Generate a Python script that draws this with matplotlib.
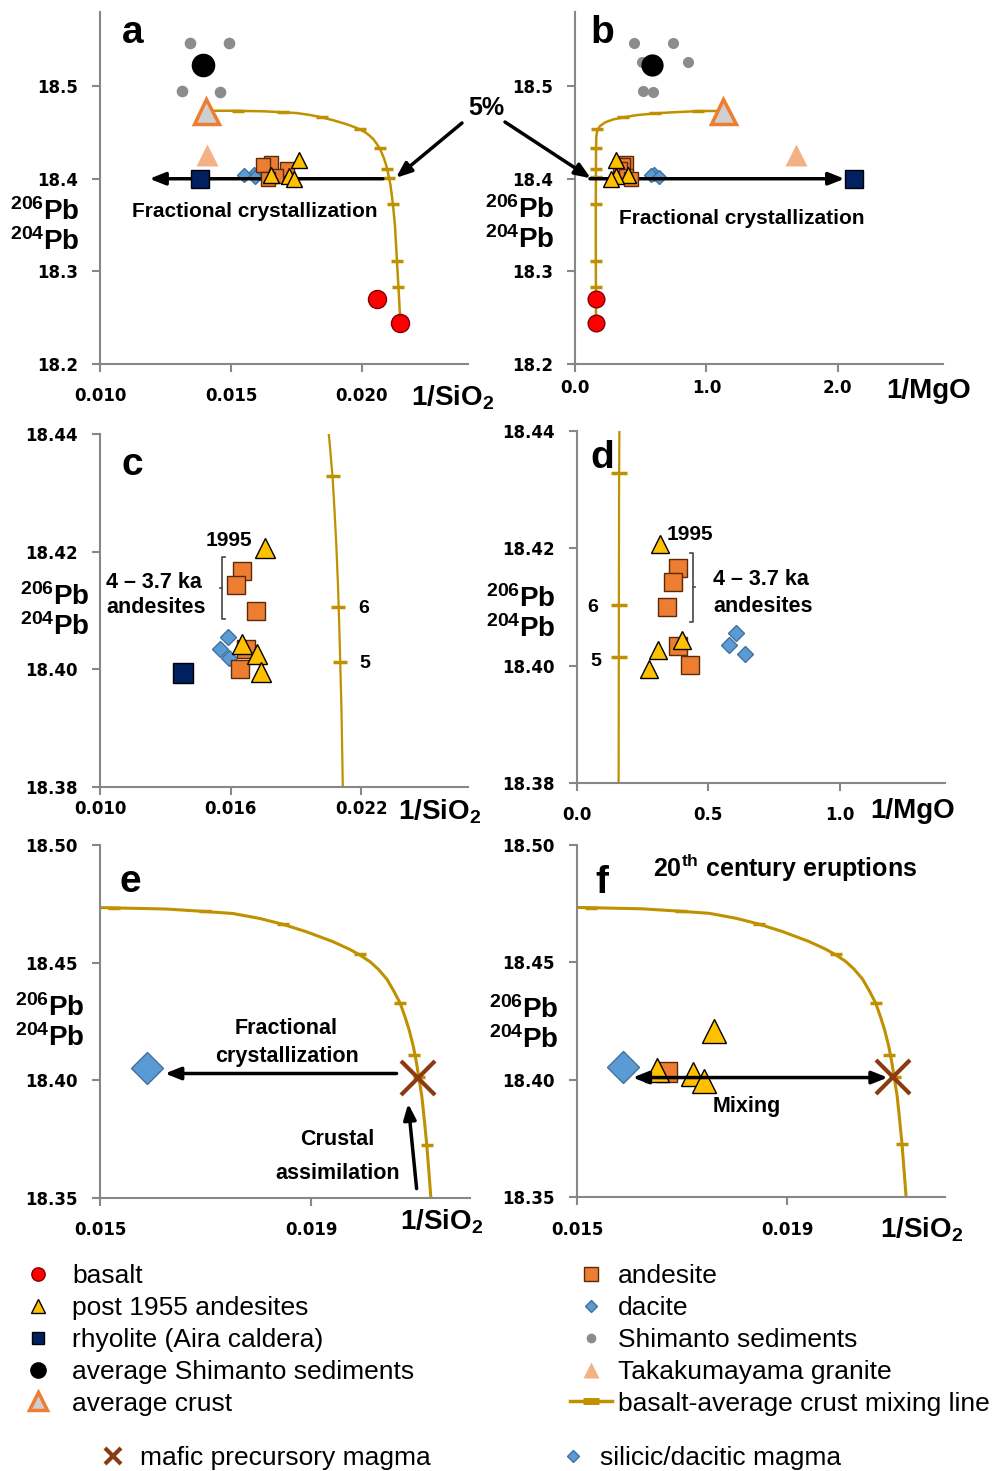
import matplotlib
matplotlib.use("Agg")
import matplotlib.pyplot as plt
from matplotlib.lines import Line2D

plt.rcParams['font.family'] = ['Liberation Sans', 'DejaVu Sans']
plt.rcParams['mathtext.fontset'] = 'custom'
plt.rcParams['mathtext.bf'] = 'Liberation Sans:bold'
plt.rcParams['mathtext.rm'] = 'Liberation Sans:bold'
plt.rcParams['mathtext.default'] = 'bf'

# ---------------- data ----------------
# x = 1/SiO2, 1/MgO ; y = 206Pb/204Pb
basalt_sio2 = [0.02059, 0.02147]
basalt_mgo = [0.160, 0.160]
basalt_pb = [18.270, 18.2442]

andesite_sio2 = [0.01654, 0.01623, 0.01715, 0.01672, 0.01641]
andesite_mgo = [0.3845, 0.3655, 0.3426, 0.3845, 0.4289]
andesite_pb = [18.4167, 18.4143, 18.4100, 18.4034, 18.4001]

post1955_sio2 = [0.01760, 0.01652, 0.01721, 0.01741]
post1955_mgo = [0.3147, 0.4010, 0.3084, 0.2728]
post1955_pb = [18.4207, 18.4043, 18.4026, 18.3995]

dacite_sio2 = [0.01588, 0.01549, 0.01592]
dacite_mgo = [0.604, 0.5787, 0.6396]
dacite_pb = [18.4055, 18.4035, 18.4020]

rhyolite_sio2 = [0.0138]
rhyolite_mgo = [2.124]
rhyolite_pb = [18.3994]

shim_sio2 = [0.01492, 0.01344, 0.01390, 0.01400, 0.01312, 0.01458]
shim_mgo = [0.452, 0.749, 0.862, 0.508, 0.515, 0.591]
shim_pb = [18.547, 18.546, 18.526, 18.526, 18.495, 18.494]

avg_shim_sio2, avg_shim_mgo, avg_shim_pb = [0.01394], [0.584], [18.5225]
avg_crust_sio2, avg_crust_mgo, avg_crust_pb = [0.01403], [1.129], [18.4733]
taka_sio2, taka_mgo, taka_pb = [0.0141], [1.683], [18.4257]

# basalt - average crust mixing line
mix_sio2 = [0.01403, 0.01500, 0.01625, 0.01688, 0.01751, 0.01802, 0.01846, 0.01891, 0.01941, 0.01973,
            0.01992, 0.02011, 0.02027, 0.02043, 0.02055, 0.02068, 0.02077, 0.02085, 0.02093, 0.02099,
            0.02104, 0.02109, 0.02113, 0.02118, 0.02122, 0.02126, 0.02131, 0.02136, 0.02141, 0.02147]
mix_pb_si = [18.4734, 18.4734, 18.4728, 18.4719, 18.4709, 18.4688, 18.4663, 18.4631, 18.4589, 18.4556,
             18.4532, 18.4504, 18.4471, 18.4429, 18.4383, 18.4327, 18.4270, 18.4213, 18.4142, 18.4071,
             18.4001, 18.3930, 18.3845, 18.3731, 18.3618, 18.3500, 18.3250, 18.3000, 18.2750, 18.2442]
tick_sio2 = [0.01526, 0.01698, 0.01846, 0.01992, 0.02068, 0.02094, 0.02104, 0.02118, 0.02134, 0.02139]
tick_pb_si = [18.4733, 18.4718, 18.4663, 18.4535, 18.4328, 18.4106, 18.4013, 18.3727, 18.3110, 18.2836]

mix_mgo = [1.129, 0.939, 0.724, 0.609, 0.470, 0.368, 0.292, 0.228, 0.190, 0.170, 0.162, 0.160,
           0.159, 0.158, 0.158, 0.159, 0.160]
mix_pb_mg = [18.4733, 18.4730, 18.4716, 18.4705, 18.4687, 18.4662, 18.4641, 18.4608, 18.4568, 18.4525,
             18.4453, 18.4300, 18.4000, 18.3700, 18.3300, 18.2900, 18.2442]
tick_mgo = [0.939, 0.609, 0.368, 0.170, 0.161, 0.160, 0.159, 0.158, 0.158, 0.159]
tick_pb_mg = [18.4730, 18.4705, 18.4662, 18.4533, 18.4328, 18.4104, 18.4015, 18.3727, 18.3115, 18.2834]

# end members in e / f
mafic_sio2, mafic_pb = [0.02101], [18.4010]
silicic_sio2, silicic_pb = [0.01588], [18.4053]

# colours
GREY = '#878787'
GOLD = '#BF9000'
RED = '#FF0000'
YEL = '#FFC000'
ORANGE = '#ED7D31'
NAVY = '#002060'
BLUE = '#5B9BD5'
SED = '#8C8C8C'
SALMON = '#F4B183'
CRUST = '#D0CECE'
BROWN = '#8B3A12'

W, H = 1003, 1471
fig = plt.figure(figsize=(W / 100, H / 100), dpi=100)


def fx(px):
    return px / W


def fy(py):
    return 1 - py / H


def add_ax(l, t, r, b):
    return fig.add_axes([fx(l), fy(b), (r - l) / W, (b - t) / H])


def style(ax, xlim, ylim, xt, yt, xfmt, yfmt, xpad):
    ax.set_xlim(xlim)
    ax.set_ylim(ylim)
    ax.set_xticks(xt)
    ax.set_yticks(yt)
    ax.set_xticklabels([xfmt.format(v) for v in xt])
    ax.set_yticklabels([yfmt.format(v) for v in yt])
    for s in ['top', 'right']:
        ax.spines[s].set_visible(False)
    for s in ['left', 'bottom']:
        ax.spines[s].set_color(GREY)
        ax.spines[s].set_linewidth(1.5)
    ax.tick_params(direction='out', length=6, width=1.5, color=GREY, labelsize=12)
    ax.tick_params(axis='x', pad=xpad)
    ax.tick_params(axis='y', pad=10)
    for lab in ax.get_xticklabels() + ax.get_yticklabels():
        lab.set_fontweight('bold')
        lab.set_fontfamily('DejaVu Sans')


def mixing(ax, xs, ys, tx, ty, lw=1.8, tms=9):
    ax.plot(xs, ys, color=GOLD, lw=lw, zorder=2, solid_joinstyle='round')
    ax.plot(tx, ty, ls='none', marker='_', ms=tms, mew=2.5, color=GOLD, zorder=2)


def pts(ax, x, y, marker, ms, fc, ec='none', mew=1.0, z=4):
    ax.plot(x, y, ls='none', marker=marker, ms=ms, mfc=fc, mec=ec, mew=mew, zorder=z)


def arrow(ax, tail, head, style='-|>', z=3.5, **kw):
    ax.annotate('', xy=head, xytext=tail, zorder=z,
                arrowprops=dict(arrowstyle=style + ',head_length=0.55,head_width=0.22',
                                mutation_scale=17, lw=2.5, color='black',
                                shrinkA=0, shrinkB=0), **kw)


BT = dict(fontsize=15.5, fontweight='bold')

# ---------------- panel a ----------------
ax = add_ax(100, 12, 468, 364)
style(ax, (0.010, 0.02405), (18.2, 18.58), [0.010, 0.015, 0.020], [18.2, 18.3, 18.4, 18.5],
      '{:.3f}', '{:.1f}', 10.5)
mixing(ax, mix_sio2, mix_pb_si, tick_sio2, tick_pb_si)
pts(ax, shim_sio2, shim_pb, 'o', 8.4, SED)
pts(ax, avg_shim_sio2, avg_shim_pb, 'o', 17, 'black', z=5)
pts(ax, avg_crust_sio2, avg_crust_pb, '^', 18, CRUST, ORANGE, 2.5)
pts(ax, taka_sio2, taka_pb, '^', 16, SALMON)
pts(ax, rhyolite_sio2, rhyolite_pb, 's', 13.5, NAVY, 'black')
pts(ax, dacite_sio2, dacite_pb, 'D', 7, BLUE, '#41719C', z=3)
pts(ax, andesite_sio2, andesite_pb, 's', 10.5, ORANGE, '#5A2A0A', z=4)
pts(ax, post1955_sio2, post1955_pb, '^', 11.5, YEL, 'black', z=5)
pts(ax, basalt_sio2, basalt_pb, 'o', 13, RED, '#7F0000')
arrow(ax, (0.0208, 18.40), (0.01189, 18.40))
ax.text(0.01589, 18.3586, 'Fractional crystallization', ha='center', va='baseline', fontsize=15, fontweight='bold')
ax.annotate('', xy=(0.0213, 18.401), xytext=(fx(462), fy(123)), textcoords='figure fraction',
            annotation_clip=False, zorder=6,
            arrowprops=dict(arrowstyle='-|>,head_length=0.55,head_width=0.22', mutation_scale=17,
                            lw=2.5, color='black', shrinkA=0, shrinkB=0))

# ---------------- panel b ----------------
ax = add_ax(575, 12, 943, 364)
style(ax, (0.0, 2.80), (18.2, 18.58), [0.0, 1.0, 2.0], [18.2, 18.3, 18.4, 18.5],
      '{:.1f}', '{:.1f}', 4.5)
mixing(ax, mix_mgo, mix_pb_mg, tick_mgo, tick_pb_mg)
pts(ax, shim_mgo, shim_pb, 'o', 8, SED)
pts(ax, avg_shim_mgo, avg_shim_pb, 'o', 16, 'black', z=5)
pts(ax, avg_crust_mgo, avg_crust_pb, '^', 18, CRUST, ORANGE, 2.5)
pts(ax, taka_mgo, taka_pb, '^', 16.5, SALMON)
pts(ax, rhyolite_mgo, rhyolite_pb, 's', 13.5, NAVY, 'black', z=5)
pts(ax, dacite_mgo, dacite_pb, 'D', 7, BLUE, '#41719C', z=3)
pts(ax, andesite_mgo, andesite_pb, 's', 10.5, ORANGE, '#5A2A0A', z=4)
pts(ax, post1955_mgo, post1955_pb, '^', 11.5, YEL, 'black', z=5)
pts(ax, basalt_mgo, basalt_pb, 'o', 12, RED, '#7F0000')
arrow(ax, (0.114, 18.40), (2.05, 18.40))
ax.text(1.269, 18.3514, 'Fractional crystallization', ha='center', va='baseline', fontsize=15, fontweight='bold')
ax.annotate('', xy=(0.12, 18.4005), xytext=(fx(505), fy(122)), textcoords='figure fraction',
            annotation_clip=False, zorder=6,
            arrowprops=dict(arrowstyle='-|>,head_length=0.55,head_width=0.22', mutation_scale=17,
                            lw=2.5, color='black', shrinkA=0, shrinkB=0))
fig.text(fx(486), fy(108), '5%', ha='center', va='center', fontsize=18, fontweight='bold')

# ---------------- panel c ----------------
ax = add_ax(100, 434, 468, 787)
style(ax, (0.010, 0.0269), (18.38, 18.44), [0.010, 0.016, 0.022], [18.38, 18.40, 18.42, 18.44],
      '{:.3f}', '{:.2f}', 3.5)
mixing(ax, mix_sio2, mix_pb_si, tick_sio2, tick_pb_si, lw=1.6, tms=10)
pts(ax, rhyolite_sio2, rhyolite_pb, 's', 13.7, NAVY, 'black')
pts(ax, dacite_sio2, dacite_pb, 'D', 8.5, BLUE, '#41719C', z=3)
pts(ax, andesite_sio2, andesite_pb, 's', 12.7, ORANGE, '#5A2A0A', z=4)
pts(ax, post1955_sio2, post1955_pb, '^', 14, YEL, 'black', z=5)
ax.text(0.01592, 18.421, '1995', ha='center', va='baseline', fontsize=15, fontweight='bold')
ax.text(0.01028, 18.4139, '4 – 3.7 ka', ha='left', va='baseline', **BT)
ax.text(0.01028, 18.4096, 'andesites', ha='left', va='baseline', **BT)
ax.text(0.02212, 18.4095, '6', ha='center', va='baseline', fontsize=14, fontweight='bold')
ax.text(0.02217, 18.4002, '5', ha='center', va='baseline', fontsize=14, fontweight='bold')
# bracket around the three older andesites
bx = min(andesite_sio2[:3]) - 0.00065
by0, by1 = min(andesite_pb[:3]) - 0.0015, max(andesite_pb[:3]) + 0.0024
ax.plot([bx + 0.00016, bx, bx, bx + 0.00016], [by1, by1, by0, by0], color='#444444', lw=1.2)
ax.plot([bx, bx - 0.00008], [(by0 + by1) / 2] * 2, color='#444444', lw=1.2)

# ---------------- panel d ----------------
ax = add_ax(577, 431, 945, 783)
style(ax, (0.0, 1.40), (18.38, 18.44), [0.0, 0.5, 1.0], [18.38, 18.40, 18.42, 18.44],
      '{:.1f}', '{:.2f}', 10.5)
mixing(ax, mix_mgo, mix_pb_mg, tick_mgo, tick_pb_mg, lw=1.6, tms=11)
pts(ax, dacite_mgo, dacite_pb, 'D', 8, BLUE, '#41719C', z=3)
pts(ax, andesite_mgo, andesite_pb, 's', 13, ORANGE, '#5A2A0A', z=4)
pts(ax, post1955_mgo, post1955_pb, '^', 13, YEL, 'black', z=5)
ax.text(0.340, 18.4214, '1995', ha='left', va='baseline', fontsize=15, fontweight='bold')
ax.text(0.518, 18.4137, '4 – 3.7 ka', ha='left', va='baseline', **BT)
ax.text(0.518, 18.4092, 'andesites', ha='left', va='baseline', **BT)
ax.text(0.061, 18.4092, '6', ha='center', va='baseline', fontsize=14, fontweight='bold')
ax.text(0.071, 18.4000, '5', ha='center', va='baseline', fontsize=14, fontweight='bold')
bx = max(andesite_mgo[:3]) + 0.057
by0, by1 = min(andesite_pb[:3]) - 0.0025, max(andesite_pb[:3]) + 0.0025
ax.plot([bx - 0.013, bx, bx, bx - 0.013], [by1, by1, by0, by0], color='#444444', lw=1.2)
ax.plot([bx, bx + 0.007], [(by0 + by1) / 2] * 2, color='#444444', lw=1.2)

# ---------------- panel e ----------------
ax = add_ax(100, 845, 470, 1198)
style(ax, (0.015, 0.022), (18.35, 18.50), [0.015, 0.019], [18.35, 18.40, 18.45, 18.50],
      '{:.3f}', '{:.2f}', 10.5)
mixing(ax, mix_sio2, mix_pb_si, tick_sio2, tick_pb_si, lw=2.2, tms=9)
pts(ax, silicic_sio2, silicic_pb, 'D', 16.8, BLUE, '#41719C')
ax.plot(mafic_sio2, mafic_pb, ls='none', marker='x', ms=25, mew=3, color=BROWN, zorder=5)
arrow(ax, (0.02061, 18.4029), (0.01623, 18.4029))
arrow(ax, (0.02099, 18.354), (0.02083, 18.3901))
ax.text(0.01853, 18.4195, 'Fractional', ha='center', va='baseline', **BT)
ax.text(0.01853, 18.4076, 'crystallization', ha='center', va='baseline', **BT)
ax.text(0.01949, 18.3727, 'Crustal', ha='center', va='baseline', **BT)
ax.text(0.01949, 18.3582, 'assimilation', ha='center', va='baseline', **BT)

# ---------------- panel f ----------------
ax = add_ax(577, 845, 945, 1197)
style(ax, (0.015, 0.022), (18.35, 18.50), [0.015, 0.019], [18.35, 18.40, 18.45, 18.50],
      '{:.3f}', '{:.2f}', 11)
mixing(ax, mix_sio2, mix_pb_si, tick_sio2, tick_pb_si, lw=2.2, tms=9)
pts(ax, silicic_sio2, silicic_pb, 'D', 16.3, BLUE, '#41719C')
pts(ax, andesite_sio2[3:4], andesite_pb[3:4], 's', 14.4, ORANGE, '#5A2A0A', z=4)
pts(ax, post1955_sio2, post1955_pb, '^', 17, YEL, 'black', z=5)
ax.plot(mafic_sio2, mafic_pb, ls='none', marker='x', ms=25, mew=3, color=BROWN, zorder=5)
arrow(ax, (0.01606, 18.4009), (0.02091, 18.4009), style='<|-|>', z=6)
ax.text(0.01822, 18.3862, 'Mixing', ha='center', va='baseline', **BT)
ax.text(0.01644, 18.4865, r'20$^{\rm th}$ century eruptions', ha='left', va='baseline',
        fontsize=18, fontweight='bold')

# ---------------- figure-level labels ----------------
letters = [('a', 122, 43), ('b', 590, 43), ('c', 122, 475), ('d', 590, 468), ('e', 120, 892), ('f', 595, 893)]
for s, px, py in letters:
    fig.text(fx(px), fy(py), s, ha='left', va='baseline', fontsize=28, fontweight='bold')

ylabs = [(45, 220, 250), (520, 218, 248), (55, 605, 635), (521, 607, 637), (50, 1016, 1046), (524, 1018, 1048)]
for px, p1, p2 in ylabs:
    fig.text(fx(px), fy(p1), r'$^{206}$Pb', ha='center', va='baseline', fontsize=20, fontweight='bold')
    fig.text(fx(px), fy(p2), r'$^{204}$Pb', ha='center', va='baseline', fontsize=20, fontweight='bold')

xlabs = [(r'1/SiO$_2$', 411, 405), ('1/MgO', 886, 398), (r'1/SiO$_2$', 398, 820),
         ('1/MgO', 870, 818), (r'1/SiO$_2$', 400, 1230), (r'1/SiO$_2$', 880, 1238)]
for s, px, py in xlabs:
    fig.text(fx(px), fy(py), s, ha='left', va='baseline', fontsize=20, fontweight='bold')


# ---------------- legend ----------------
def h(marker, ms, fc, ec='none', mew=1.0):
    return Line2D([], [], ls='none', marker=marker, ms=ms, mfc=fc, mec=ec, mew=mew)


def block(handles, labels, left, top, hl, hp):
    fig.legend(handles, labels, loc='upper left', bbox_to_anchor=(fx(left), fy(top)),
               bbox_transform=fig.transFigure, frameon=False, fontsize=19, handlelength=hl,
               handletextpad=hp, labelspacing=0.30, borderpad=0, borderaxespad=0, numpoints=1)


block([h('o', 9.6, RED, '#7F0000'), h('^', 10.5, YEL, 'black'), h('s', 9, NAVY, 'black'),
       h('o', 12, 'black'), h('^', 13, CRUST, ORANGE, 2.5)],
      ['basalt', 'post 1955 andesites', 'rhyolite (Aira caldera)', 'average Shimanto sediments',
       'average crust'], 22, 1264, 1.2, 0.69)
block([h('s', 9.5, ORANGE, '#5A2A0A'), h('D', 6.6, BLUE, '#41719C'), h('o', 7, SED),
       h('^', 12, SALMON),
       Line2D([], [], color=GOLD, lw=2.5, marker='_', ms=12, mew=5)],
      ['andesite', 'dacite', 'Shimanto sediments', 'Takakumayama granite',
       'basalt-average crust mixing line'], 570, 1264, 1.59, 0.23)
block([Line2D([], [], ls='none', marker='x', ms=11, mew=3, color=BROWN)],
      ['mafic precursory magma'], 100, 1446, 1.0, 0.52)
block([h('D', 6.6, BLUE, '#41719C')], ['silicic/dacitic magma'], 560, 1446, 1.0, 0.52)

fig.savefig('out.png', dpi=100)
